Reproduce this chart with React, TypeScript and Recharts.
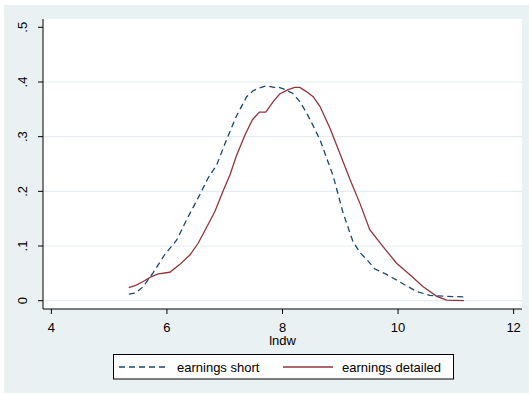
import React from 'react';
import { LineChart, Line, XAxis, YAxis, CartesianGrid } from 'recharts';

const shortX = [5.34, 5.46, 5.59, 5.76, 5.96, 6.17, 6.34, 6.57, 6.71, 6.86, 7.03, 7.2, 7.38, 7.49, 7.6, 7.72, 7.85, 7.92, 8.05, 8.18, 8.3, 8.42, 8.53, 8.65, 8.76, 8.88, 9.05, 9.22, 9.35, 9.46, 9.6, 9.8, 9.97, 10.15, 10.32, 10.55, 10.84, 11.14];
const shortY = [0.012, 0.014, 0.026, 0.051, 0.084, 0.111, 0.148, 0.194, 0.224, 0.248, 0.294, 0.337, 0.373, 0.384, 0.389, 0.393, 0.39, 0.391, 0.386, 0.379, 0.364, 0.343, 0.32, 0.294, 0.262, 0.227, 0.16, 0.108, 0.087, 0.075, 0.058, 0.048, 0.038, 0.027, 0.017, 0.0097, 0.008, 0.007];

const detX = [5.34, 5.46, 5.59, 5.73, 5.85, 6.05, 6.22, 6.4, 6.54, 6.68, 6.83, 6.97, 7.09, 7.2, 7.35, 7.48, 7.6, 7.71, 7.84, 7.95, 8.1, 8.21, 8.3, 8.42, 8.53, 8.65, 8.82, 8.99, 9.17, 9.34, 9.51, 9.74, 9.97, 10.2, 10.43, 10.67, 10.84, 11.14];
const detY = [0.024, 0.028, 0.035, 0.044, 0.049, 0.052, 0.066, 0.084, 0.105, 0.133, 0.163, 0.2, 0.23, 0.264, 0.303, 0.331, 0.345, 0.345, 0.364, 0.378, 0.386, 0.39, 0.39, 0.382, 0.373, 0.355, 0.316, 0.27, 0.221, 0.178, 0.13, 0.099, 0.069, 0.048, 0.026, 0.008, 0.001, 0.0];

const xTicks = [4, 6, 8, 10, 12];
const yTicks = [0, 0.1, 0.2, 0.3, 0.4, 0.5];
const yTickLabels = ['0', '.1', '.2', '.3', '.4', '.5'];
const gridValues = [0, 0.1, 0.2, 0.3, 0.4];
const seriesNames = ['earnings short', 'earnings detailed'];
const xTitle = 'lndw';

const shortData = shortX.map((x, i) => ({ x, y: shortY[i] }));
const detData = detX.map((x, i) => ({ x, y: detY[i] }));

const FONT = '"Liberation Sans", Arial, sans-serif';
const BG = '#EAF1F3';
const NAVY = '#1A476F';
const MAROON = '#90353B';

const XTick = (props: any) => {
  const { x, y, payload } = props;
  return (
    <text x={x} y={y} dy={15.5} textAnchor="middle" fontFamily={FONT} fontSize={13} fill="#000">
      {String(payload.value)}
    </text>
  );
};

const YTick = (props: any) => {
  const { x, y, payload } = props;
  const idx = yTicks.indexOf(payload.value);
  const label = idx >= 0 ? yTickLabels[idx] : String(payload.value);
  const bx = x - 9;
  return (
    <text x={bx} y={y} transform={`rotate(-90, ${bx}, ${y})`} textAnchor="middle" fontFamily={FONT} fontSize={13} fill="#000">
      {label}
    </text>
  );
};

export default function App() {
  return (
    <div style={{ position: 'absolute', left: 0, top: 0, width: 529, height: 394, background: '#fff', overflow: 'hidden' }}>
      <div style={{ position: 'absolute', left: 4, top: 5, width: 525, height: 388, background: BG }} />
      <div style={{ position: 'absolute', left: 0, top: 0 }}>
        <LineChart width={529} height={394} margin={{ top: 19, right: 7, left: 0, bottom: 49 }}>
          <CartesianGrid
            vertical={false}
            horizontalValues={gridValues}
            stroke="#E4EDEF"
            strokeWidth={1.2}
            fill="#fff"
          />
          <XAxis
            type="number"
            dataKey="x"
            domain={[3.855, 12.145]}
            ticks={xTicks}
            allowDataOverflow
            height={36}
            tickSize={5}
            tickMargin={2}
            axisLine={{ stroke: '#000', strokeWidth: 1 }}
            tickLine={{ stroke: '#000', strokeWidth: 1 }}
            tick={<XTick />}
            label={{ value: xTitle, position: 'insideBottom', offset: 0, fontFamily: FONT, fontSize: 13, fill: '#000' }}
          />
          <YAxis
            type="number"
            domain={[-0.0152, 0.5152]}
            ticks={yTicks}
            allowDataOverflow
            width={43}
            tickSize={5}
            tickMargin={2}
            axisLine={{ stroke: '#000', strokeWidth: 1 }}
            tickLine={{ stroke: '#000', strokeWidth: 1 }}
            tick={<YTick />}
          />
          <Line
            data={shortData}
            dataKey="y"
            name={seriesNames[0]}
            type="linear"
            stroke={NAVY}
            strokeWidth={1.3}
            strokeDasharray="6 4"
            dot={false}
            activeDot={false}
            isAnimationActive={false}
          />
          <Line
            data={detData}
            dataKey="y"
            name={seriesNames[1]}
            type="linear"
            stroke={MAROON}
            strokeWidth={1.3}
            dot={false}
            activeDot={false}
            isAnimationActive={false}
          />
        </LineChart>
      </div>
      <svg width={529} height={394} style={{ position: 'absolute', left: 0, top: 0, pointerEvents: 'none' }}>
        <rect x={113.5} y={354.5} width={340} height={24.5} fill="#fff" stroke="#000" strokeWidth={1} />
        <line x1={119} y1={367} x2={169} y2={367} stroke={NAVY} strokeWidth={1.3} strokeDasharray="6 4" />
        <text x={177} y={371.5} fontFamily={FONT} fontSize={13} fill="#000">{seriesNames[0]}</text>
        <line x1={283} y1={367} x2={333} y2={367} stroke={MAROON} strokeWidth={1.3} />
        <text x={342} y={371.5} fontFamily={FONT} fontSize={13} fill="#000">{seriesNames[1]}</text>
      </svg>
    </div>
  );
}
